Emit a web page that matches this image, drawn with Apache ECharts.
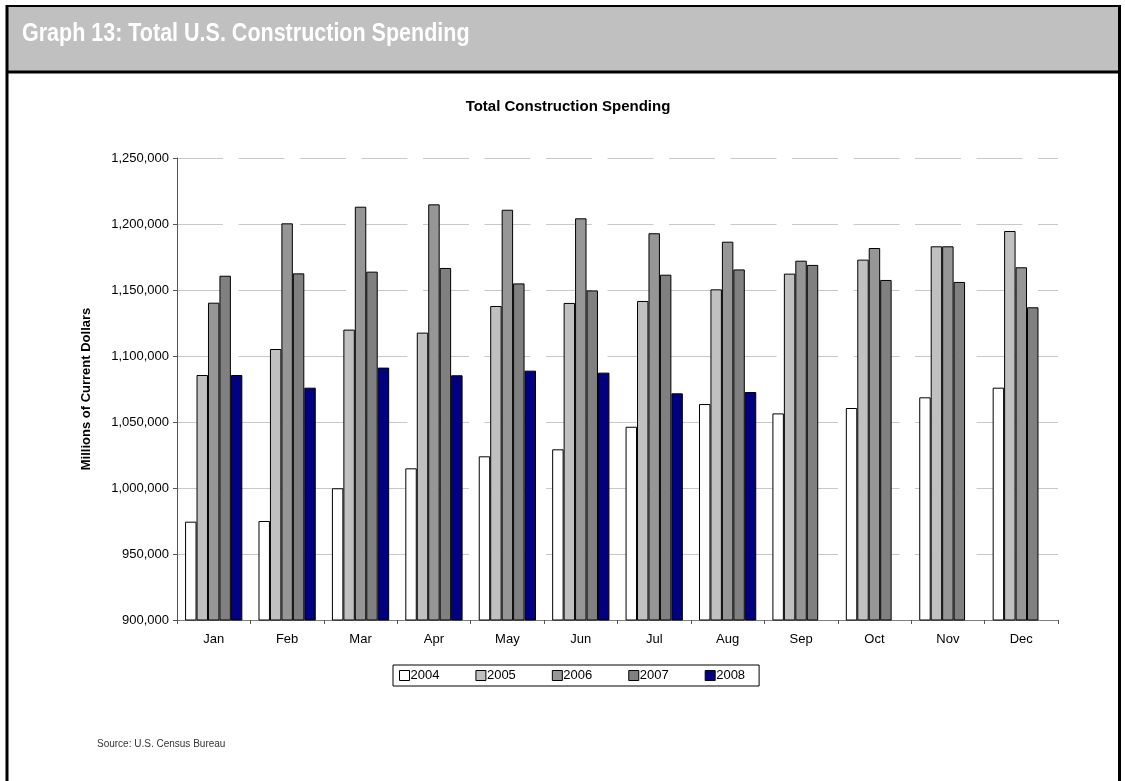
<!DOCTYPE html>
<html>
<head>
<meta charset="utf-8">
<script src="https://cdn.jsdelivr.net/npm/echarts@6/dist/echarts.min.js"></script>
<style>
  html, body { margin: 0; padding: 0; background: #fff; }
  #chart { width: 1125px; height: 781px; }
</style>
</head>
<body>
<div id="chart"></div>
<script>
// 월 카테고리
var months = ['Jan', 'Feb', 'Mar', 'Apr', 'May', 'Jun', 'Jul', 'Aug', 'Sep', 'Oct', 'Nov', 'Dec'];

// 연도별 건설 지출 (millions of current dollars)
var years = ['2004', '2005', '2006', '2007', '2008'];
var data2004 = [974500, 975000, 999800, 1014900, 1024000, 1029300, 1046400, 1063600, 1056500, 1060600, 1068700, 1076000];
var data2005 = [1085600, 1105300, 1120000, 1117700, 1137900, 1140200, 1141700, 1150500, 1162400, 1173000, 1183100, 1194700];
var data2006 = [1140400, 1200500, 1213100, 1214900, 1210800, 1204300, 1193000, 1186600, 1172200, 1181800, 1183100, 1167200];
var data2007 = [1160800, 1162600, 1163900, 1166700, 1155000, 1149700, 1161600, 1165600, 1169000, 1157600, 1156100, 1136900];
var data2008 = [1085600, 1076000, 1091200, 1085400, 1088900, 1087400, 1071700, 1072700, null, null, null, null];

var yTicks = [900000, 950000, 1000000, 1050000, 1100000, 1150000, 1200000, 1250000];

var barColors = ['#ffffff', '#c0c0c0', '#969696', '#808080', '#000080'];
var seriesData = [data2004, data2005, data2006, data2007, data2008];

var baseFont = '"Liberation Sans", Arial, sans-serif';

function makeSeries() {
  var list = [];
  for (var i = 0; i < years.length; i++) {
    list.push({
      name: years[i],
      type: 'bar',
      data: seriesData[i],
      barGap: '0%',
      barCategoryGap: '22%',
      itemStyle: {
        color: barColors[i],
        borderColor: '#000',
        borderWidth: 1
      }
    });
  }
  return list;
}

var chart = echarts.init(document.getElementById('chart'));

var option = {
  animation: false,
  backgroundColor: '#fff',
  textStyle: { fontFamily: baseFont },
  title: {
    text: 'Total Construction Spending',
    left: 563,
    textAlign: 'center',
    top: 94,
    textStyle: { fontFamily: baseFont, fontSize: 15, fontWeight: 'bold', color: '#000' }
  },
  legend: {
    data: years,
    left: 393,
    top: 665,
    orient: 'horizontal',
    icon: 'rect',
    itemWidth: 10,
    itemHeight: 10,
    itemGap: 36,
    padding: [4, 14, 4, 6],
    borderColor: '#000',
    borderWidth: 1,
    itemStyle: { borderColor: '#000', borderWidth: 1 },
    textStyle: { fontFamily: baseFont, fontSize: 13, color: '#000', padding: [0, 0, 0, -4] }
  },
  grid: {
    left: 177,
    right: 67,
    top: 158,
    bottom: 161,
    containLabel: false
  },
  xAxis: {
    type: 'category',
    data: months,
    axisLine: { lineStyle: { color: '#808080', width: 1 } },
    axisTick: { show: true, alignWithLabel: false, length: 4, lineStyle: { color: '#555' } },
    axisLabel: { fontFamily: baseFont, fontSize: 13, color: '#000', margin: 13 },
    splitLine: { show: false }
  },
  yAxis: {
    type: 'value',
    min: yTicks[0],
    max: yTicks[yTicks.length - 1],
    interval: 50000,
    name: 'Millions of Current Dollars',
    nameLocation: 'middle',
    nameGap: 84,
    nameTextStyle: { fontFamily: baseFont, fontSize: 13, fontWeight: 'bold', color: '#000' },
    axisLine: { show: true, lineStyle: { color: '#555', width: 1 } },
    axisTick: { show: true, length: 4, lineStyle: { color: '#555' } },
    axisLabel: {
      fontFamily: baseFont,
      fontSize: 13,
      color: '#000',
      margin: 8,
      formatter: function (v) { return v.toLocaleString('en-US'); }
    },
    splitLine: {
      show: true,
      lineStyle: { color: '#c8c8c8', width: 1, type: [46, 15.5] }
    }
  },
  series: makeSeries(),
  graphic: [
    // 헤더 배경
    { type: 'rect', shape: { x: 7, y: 5, width: 1112, height: 67 }, style: { fill: '#c0c0c0' }, z: -1 },
    { type: 'line', shape: { x1: 7, y1: 6, x2: 1120, y2: 6 }, style: { stroke: '#000', lineWidth: 2 } },
    { type: 'line', shape: { x1: 7, y1: 72, x2: 1120, y2: 72 }, style: { stroke: '#000', lineWidth: 3 } },
    // 좌우 테두리
    { type: 'line', shape: { x1: 7, y1: 5, x2: 7, y2: 781 }, style: { stroke: '#000', lineWidth: 3 } },
    { type: 'line', shape: { x1: 1119.5, y1: 5, x2: 1119.5, y2: 781 }, style: { stroke: '#000', lineWidth: 3 } },
    // 헤더 제목 (좁은 글꼴 느낌으로 가로 축소)
    {
      type: 'text', x: 22, y: 22, scaleX: 0.86,
      style: {
        text: 'Graph 13: Total U.S. Construction Spending',
        fill: '#fff',
        font: 'bold 25px "Liberation Sans", Arial, sans-serif'
      }
    },
    {
      type: 'text', left: 97, top: 739,
      style: { text: 'Source: U.S. Census Bureau', fill: '#333', font: '10px ' + baseFont }
    }
  ]
};

chart.setOption(option);
</script>
</body>
</html>
